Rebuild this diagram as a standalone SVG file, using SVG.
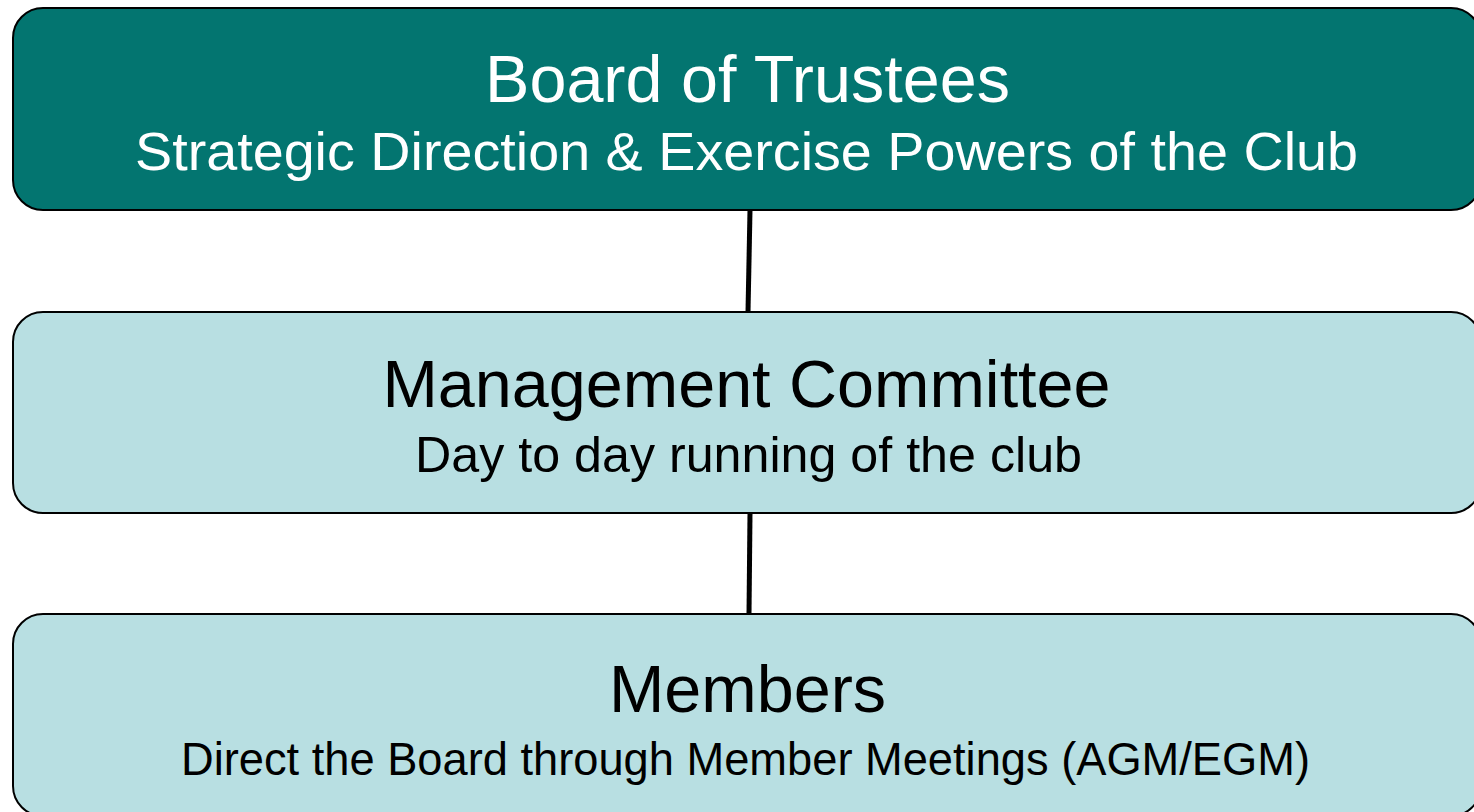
<svg xmlns="http://www.w3.org/2000/svg" width="1474" height="812" viewBox="0 0 1474 812">
<style>
.box{stroke:#000;stroke-width:2}
.dark{fill:#037570}
.light{fill:#B8DFE2}
.t{font-family:"Liberation Sans",Arial,sans-serif;text-anchor:middle}
.big{font-size:66.5px}
.w{fill:#fff}
.k{fill:#000}
</style>
<rect width="1474" height="812" fill="#fff"/>
<g id="connectors" stroke="#000" stroke-width="5">
<line x1="750" y1="210" x2="748" y2="312"/>
<line x1="750" y1="513" x2="749" y2="614"/>
</g>
<g id="board">
<rect class="box dark" x="13" y="8" width="1468" height="202" rx="30"/>
<text class="t big w" x="747.5" y="102">Board of Trustees</text>
<text class="t w" x="746.5" y="170" font-size="54" textLength="1223" lengthAdjust="spacingAndGlyphs">Strategic Direction &amp; Exercise Powers of the Club</text>
</g>
<g id="management">
<rect class="box light" x="13" y="312" width="1468" height="201" rx="30"/>
<text class="t big k" x="746.5" y="407">Management Committee</text>
<text class="t k" x="748.5" y="472" font-size="50" textLength="667" lengthAdjust="spacingAndGlyphs">Day to day running of the club</text>
</g>
<g id="members">
<rect class="box light" x="13" y="614" width="1468" height="202" rx="30"/>
<text class="t big k" x="747.5" y="712">Members</text>
<text class="t k" x="745.5" y="775" font-size="47" textLength="1129" lengthAdjust="spacingAndGlyphs">Direct the Board through Member Meetings (AGM/EGM)</text>
</g>
</svg>
